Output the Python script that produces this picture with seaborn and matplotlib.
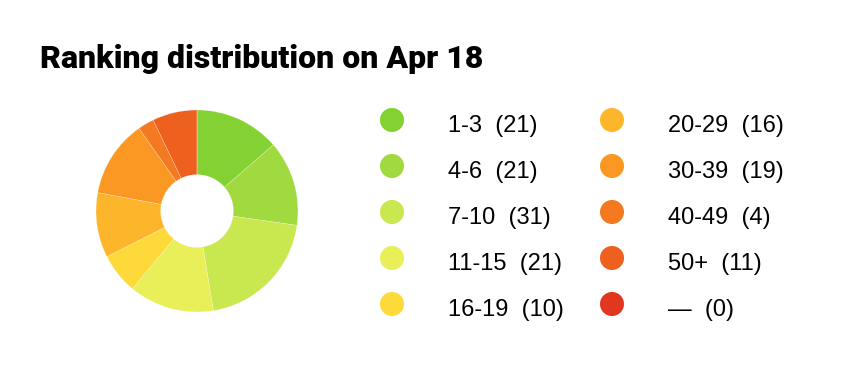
import matplotlib
matplotlib.use("Agg")
import matplotlib.pyplot as plt
import seaborn as sns

# ---- data ----
categories = ["1-3", "4-6", "7-10", "11-15", "16-19", "20-29", "30-39", "40-49", "50+", "\u2014"]
counts = [21, 21, 31, 21, 10, 16, 19, 4, 11, 0]
colors = ["#84d133", "#a1da3f", "#c9e74f", "#e9ef58", "#fdda3a",
          "#fdb52b", "#fb9823", "#f47920", "#ee601e", "#e2371f"]
title = "Ranking distribution on Apr 18"

sns.set_theme(style="white")
plt.rcParams["font.family"] = ["Liberation Sans", "DejaVu Sans"]

W, H = 862, 376
fig = plt.figure(figsize=(W / 100, H / 100), dpi=100)
fig.patch.set_facecolor("white")

# donut
cx, cy, R = 197, 211, 101
ax = fig.add_axes([(cx - R) / W, (H - cy - R) / H, 2 * R / W, 2 * R / H])
ax.pie(counts, colors=colors, startangle=90, counterclock=False, radius=1,
       wedgeprops=dict(width=0.64, edgecolor="white", linewidth=0.15))
ax.set_xlim(-1, 1)
ax.set_ylim(-1, 1)
ax.set_aspect("equal")
ax.axis("off")

# overlay axes in pixel coordinates for title & legend
lax = fig.add_axes([0, 0, 1, 1])
lax.set_xlim(0, W)
lax.set_ylim(H, 0)
lax.axis("off")
lax.patch.set_alpha(0)

lax.text(40, 68, title, fontsize=23, fontweight="black", family=["Roboto", "DejaVu Sans"],
         color="black", va="baseline", ha="left")

col_x = [392, 612]
txt_dx = 56
row_y = [120, 166, 212, 258, 304]
for i, (cat, n, c) in enumerate(zip(categories, counts, colors)):
    col, row = divmod(i, 5)
    x, y = col_x[col], row_y[row]
    lax.scatter([x], [y], s=300, color=c, edgecolors="none")
    lax.text(x + txt_dx, y + 6, f"{cat}  ({n})", fontsize=17, color="black",
             va="center", ha="left")

fig.savefig("out.png", dpi=100, facecolor="white")
